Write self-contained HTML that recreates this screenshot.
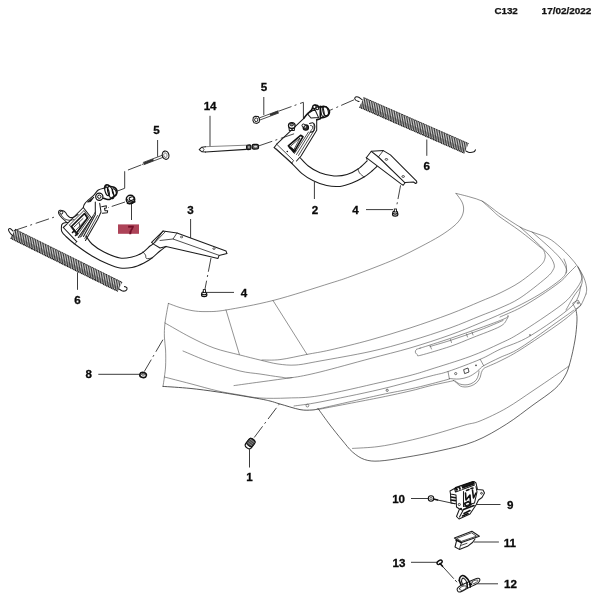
<!DOCTYPE html>
<html><head><meta charset="utf-8"><title>C132</title>
<style>
html,body{margin:0;padding:0;background:#fff;}
body{width:600px;height:600px;overflow:hidden;font-family:"Liberation Sans",sans-serif;}
svg{display:block;position:absolute;left:0;top:0;will-change:transform;}
path{fill:none;stroke-linecap:round;stroke-linejoin:round;}
.l{stroke:#505050;stroke-width:0.62;}
.k{stroke:#1c1c1c;stroke-width:1.05;}
.kf{stroke:#1c1c1c;stroke-width:1.05;fill:#fff;}
.kt{stroke:#222;stroke-width:0.8;}
.kd{stroke:#111;stroke-width:1.6;}
.ld{stroke:#3c3c3c;stroke-width:1;stroke-linecap:butt;}
.da{stroke:#222;stroke-width:0.85;stroke-dasharray:14 3.3 2 3.8;stroke-linecap:butt;}
.t{font-family:"Liberation Sans",sans-serif;font-weight:bold;font-size:11.6px;fill:#0a0a0a;stroke:#0a0a0a;stroke-width:0.3;text-anchor:middle;}
.h{font-family:"Liberation Sans",sans-serif;font-weight:bold;font-size:9px;fill:#111;stroke:#111;stroke-width:0.25;}
</style></head><body>
<svg width="600" height="600" viewBox="0 0 600 600">
<text class="h" x="494.4" y="13.9" textLength="23.4" lengthAdjust="spacingAndGlyphs">C132</text>
<text class="h" x="541.6" y="13.9" textLength="49.8" lengthAdjust="spacingAndGlyphs">17/02/2022</text>
<path class="l" d="M168.4,303.4 C170.3,304.1 176.1,306.4 180.0,307.6 C183.9,308.8 187.7,309.9 192.0,310.6 C196.3,311.3 200.3,311.7 206.0,311.6 C211.7,311.5 214.8,311.9 226.0,310.0 C237.2,308.1 255.7,304.9 273.0,300.5 C290.3,296.1 317.2,287.3 330.0,283.3 C342.8,279.3 341.7,279.7 350.0,276.7 C358.3,273.7 371.7,268.7 380.0,265.4 C388.3,262.1 393.3,260.1 400.0,257.0 C406.7,253.9 413.3,250.5 420.0,247.0 C426.7,243.5 434.3,239.5 440.0,236.0 C445.7,232.5 450.5,229.0 454.0,226.0 C457.5,223.0 459.4,220.7 461.0,218.0 C462.6,215.3 463.4,212.7 463.6,210.0 C463.8,207.3 463.3,204.8 462.0,202.0 C460.7,199.2 457.0,194.8 456.0,193.4" />
<path class="l" d="M168.4,303.4 C167.8,306.7 165.7,317.4 165.0,323.0 C164.3,328.6 164.3,332.5 164.4,337.0 C164.5,341.5 165.4,345.2 165.6,350.0 C165.8,354.8 165.8,361.5 165.6,366.0 C165.4,370.5 164.8,373.6 164.4,377.0 C164.0,380.4 163.2,384.8 163.0,386.4" />
<path class="l" d="M163.0,386.4 C167.5,386.7 180.8,387.5 190.0,388.4 C199.2,389.3 206.9,390.4 218.0,392.0 C229.1,393.6 248.0,396.8 256.7,398.3 C265.4,399.8 266.1,400.1 270.0,401.0 C273.9,401.9 275.0,402.6 280.0,404.0 C285.0,405.4 294.7,408.6 300.0,409.6 C305.3,410.6 309.0,410.1 312.0,410.0 C315.0,409.9 317.0,409.2 318.0,409.0" style="stroke:#2a2a2a;stroke-width:0.8"/>
<path class="l" d="M456.0,193.4 C458.3,194.0 465.7,195.7 470.0,197.0 C474.3,198.3 478.3,199.2 482.0,201.0 C485.7,202.8 489.0,205.8 492.0,208.0 C495.0,210.2 495.3,210.8 500.0,214.0 C504.7,217.2 514.7,224.0 520.0,227.0 C525.3,230.0 527.3,230.2 532.0,232.0 C536.7,233.8 543.3,235.5 548.0,238.0 C552.7,240.5 556.3,243.8 560.0,247.0 C563.7,250.2 567.0,253.7 570.0,257.0 C573.0,260.3 575.7,263.5 578.0,267.0 C580.3,270.5 582.6,274.5 584.0,278.0 C585.4,281.5 586.3,285.3 586.6,288.0 C586.9,290.7 586.1,293.0 586.0,294.0" />
<path class="l" d="M482.0,201.0 C483.7,202.5 489.0,207.3 492.0,210.0 C495.0,212.7 495.3,213.5 500.0,217.0 C504.7,220.5 513.3,226.0 520.0,231.0 C526.7,236.0 536.0,243.7 540.0,247.0 C544.0,250.3 543.2,249.2 544.0,251.0 C544.8,252.8 545.7,255.5 545.0,258.0 C544.3,260.5 544.2,262.0 540.0,266.0 C535.8,270.0 526.7,277.5 520.0,282.0 C513.3,286.5 506.7,289.7 500.0,293.0 C493.3,296.3 488.3,298.1 480.0,301.6 C471.7,305.1 461.7,309.6 450.0,314.0 C438.3,318.4 423.3,323.7 410.0,328.0 C396.7,332.3 383.3,336.3 370.0,340.0 C356.7,343.7 340.5,347.6 330.0,350.0 C319.5,352.4 315.3,352.8 307.0,354.4 C298.7,356.0 287.5,358.7 280.0,359.6 C272.5,360.5 265.0,359.9 262.0,360.0" />
<path class="l" d="M165.0,323.0 C169.2,325.3 181.8,332.8 190.0,337.0 C198.2,341.2 205.7,345.0 214.0,348.0 C222.3,351.0 232.3,353.0 240.0,355.0 C247.7,357.0 253.7,358.5 260.0,360.0 C266.3,361.5 272.0,363.2 278.0,364.0 C284.0,364.8 289.0,365.5 296.0,365.0 C303.0,364.5 307.7,363.2 320.0,361.0 C332.3,358.8 355.0,354.9 370.0,351.6 C385.0,348.3 396.7,344.9 410.0,341.0 C423.3,337.1 438.3,332.2 450.0,328.0 C461.7,323.8 471.7,319.3 480.0,316.0 C488.3,312.7 493.3,311.0 500.0,308.0 C506.7,305.0 512.3,303.0 520.0,298.0 C527.7,293.0 540.5,282.7 546.0,278.0 C551.5,273.3 551.7,272.3 553.0,270.0 C554.3,267.7 554.8,266.7 554.0,264.0 C553.2,261.3 551.7,258.3 548.0,254.0 C544.3,249.7 536.7,242.5 532.0,238.0 C527.3,233.5 522.0,228.8 520.0,227.0" />
<path class="l" d="M183.0,351.0 C187.5,352.8 200.5,358.7 210.0,362.0 C219.5,365.3 231.7,369.0 240.0,371.0 C248.3,373.0 253.3,373.0 260.0,374.0 C266.7,375.0 274.7,376.4 280.0,377.0 C285.3,377.6 285.3,378.4 292.0,377.6 C298.7,376.8 307.0,375.2 320.0,372.0 C333.0,368.8 355.0,362.6 370.0,358.6 C385.0,354.6 396.7,351.9 410.0,348.0 C423.3,344.1 438.3,339.2 450.0,335.0 C461.7,330.8 469.3,327.5 480.0,323.0 C490.7,318.5 504.0,312.8 514.0,308.0 C524.0,303.2 532.3,298.7 540.0,294.0 C547.7,289.3 555.7,283.5 560.0,280.0 C564.3,276.5 565.0,275.0 566.0,273.0 C567.0,271.0 567.0,270.5 566.0,268.0 C565.0,265.5 563.0,261.7 560.0,258.0 C557.0,254.3 552.7,250.3 548.0,246.0 C543.3,241.7 534.7,234.3 532.0,232.0" />
<path class="l" d="M564.0,259.0 C564.4,260.2 566.1,263.7 566.4,266.0 C566.7,268.3 566.1,271.8 566.0,273.0" />
<path class="l" d="M234.0,385.6 C238.3,385.0 250.3,383.3 260.0,382.0 C269.7,380.7 286.7,378.3 292.0,377.6" />
<path class="l" d="M226.0,310.0 L239.4,354.4" />
<path class="l" d="M273.0,300.5 L307.0,354.4" />
<path class="l" d="M576.0,266.0 C574.7,267.3 570.7,271.3 568.0,274.0 C565.3,276.7 564.7,278.3 560.0,282.0 C555.3,285.7 546.7,291.7 540.0,296.0 C533.3,300.3 526.7,304.5 520.0,308.0 C513.3,311.5 503.3,315.5 500.0,317.0" />
<path class="l" d="M164.4,377.0 C168.7,378.1 181.1,381.3 190.0,383.6 C198.9,385.9 209.7,389.1 218.0,391.0 C226.3,392.9 233.0,393.8 240.0,395.0 C247.0,396.2 252.0,397.5 260.0,398.0 C268.0,398.5 278.0,398.4 288.0,398.0 C298.0,397.6 304.7,398.2 320.0,395.6 C335.3,393.0 365.0,385.9 380.0,382.5 C395.0,379.1 401.7,377.7 410.0,375.5 C418.3,373.3 420.0,372.7 430.0,369.5 C440.0,366.3 458.3,360.8 470.0,356.5 C481.7,352.2 491.7,347.4 500.0,343.5 C508.3,339.6 510.0,339.2 520.0,333.0 C530.0,326.8 551.0,312.8 560.0,306.0 C569.0,299.2 570.3,296.7 574.0,292.0 C577.7,287.3 581.3,282.2 582.0,278.0 C582.7,273.8 578.7,268.8 578.0,267.0" />
<path class="l" d="M294.0,406.0 C298.3,405.3 305.7,404.8 320.0,402.0 C334.3,399.2 361.7,393.7 380.0,389.4 C398.3,385.1 418.7,379.2 430.0,376.2 C441.3,373.2 439.6,374.3 448.0,371.5 C456.4,368.7 471.5,363.0 480.2,359.3 C488.9,355.6 491.7,353.2 500.0,349.3 C508.3,345.4 518.0,343.2 530.0,336.0 C542.0,328.8 563.5,314.3 572.0,306.0 C580.5,297.7 579.5,289.3 581.0,286.0" />
<path class="l" d="M318.0,409.0 C328.3,406.7 364.7,398.3 380.0,395.0 C395.3,391.7 401.7,390.8 410.0,389.0 C418.3,387.2 423.4,385.9 430.0,384.2 C436.6,382.5 446.2,379.9 449.5,379.0" />
<path class="l" d="M318.0,409.5 C328.3,407.5 364.7,400.6 380.0,397.5 C395.3,394.4 401.7,392.9 410.0,391.0 C418.3,389.1 423.0,387.5 430.0,385.8 C437.0,384.1 448.1,381.9 452.0,381.0 C455.9,380.1 453.1,380.7 453.3,380.6" />
<path class="l" d="M448.0,371.5 L449.3,378.5" />
<path class="l" d="M480.2,359.3 L483.7,365.7" />
<path class="l" d="M449.3,378.5 C450.9,378.6 456.0,379.3 459.2,379.0 C462.4,378.7 465.8,377.9 468.5,376.8 C471.2,375.8 473.8,373.9 475.5,372.7 C477.2,371.5 477.6,371.0 479.0,369.8 C480.4,368.6 480.2,367.8 483.7,365.7 C487.2,363.6 493.9,360.4 500.0,357.5 C506.1,354.6 510.0,354.2 520.0,348.0 C530.0,341.8 551.0,326.3 560.0,320.0 C569.0,313.7 571.7,311.7 574.0,310.0" />
<path class="l" d="M453.3,380.3 C453.8,380.7 455.1,381.7 456.3,382.6 C457.5,383.6 458.9,385.3 460.3,386.0 C461.8,386.7 463.2,387.0 465.0,387.0 C466.8,387.0 468.9,386.7 470.8,386.0 C472.8,385.3 475.1,384.1 476.7,382.6 C478.3,381.2 479.4,379.0 480.2,377.3 C481.0,375.6 480.7,374.1 481.3,372.7 C481.9,371.2 482.5,369.7 483.7,368.6 C484.9,367.5 485.6,367.6 488.3,366.3 C491.0,365.0 494.7,363.7 500.0,361.0 C505.3,358.3 510.0,356.3 520.0,350.0 C530.0,343.7 550.7,329.7 560.0,323.0 C569.3,316.3 573.3,312.2 576.0,310.0" />
<path class="l" d="M455.0,380.8 C455.7,381.3 457.5,383.1 459.2,383.8 C460.9,384.5 463.1,384.9 465.0,384.9 C466.9,384.9 469.0,384.6 470.8,383.8 C472.6,383.0 474.7,381.8 476.0,380.3 C477.3,378.8 477.9,376.6 478.4,375.0 C478.9,373.4 478.9,371.7 479.0,371.0" />
<circle cx="455.7" cy="373.6" r="1.1" fill="none" stroke="#333" stroke-width="0.7"/>
<circle cx="307.4" cy="405.6" r="1.4" fill="none" stroke="#444" stroke-width="0.6"/>
<path class="kt" d="M464.0,369.5 L468.0,368.0 L469.0,372.0 L465.0,373.5Z" />
<circle cx="476" cy="365.4" r="0.8" fill="#333"/>
<circle cx="530" cy="335" r="0.8" fill="#444"/>
<circle cx="387.2" cy="390.3" r="1.1" fill="none" stroke="#333" stroke-width="0.7"/>
<path class="l" d="M420.0,348.2 C425.6,346.4 440.0,341.9 450.0,338.5 C460.0,335.1 470.8,331.3 480.0,328.0 C489.2,324.7 500.3,320.6 505.0,318.5 C509.7,316.4 507.7,315.4 508.0,315.5 C508.3,315.6 508.3,317.2 507.0,319.0 C505.7,320.8 505.7,323.4 500.0,326.5 C494.3,329.6 481.3,334.2 473.0,337.5 C464.7,340.8 458.7,343.6 450.0,346.5 C441.3,349.4 426.4,353.8 421.0,355.2 C415.6,356.6 418.2,355.1 417.3,354.6 C416.4,354.1 415.4,352.9 415.3,352.0 C415.2,351.1 415.7,350.1 416.5,349.5 C417.3,348.9 414.4,350.0 420.0,348.2Z" />
<path class="l" d="M430.0,346.5 C433.3,345.5 441.7,343.2 450.0,340.5 C458.3,337.8 471.2,333.3 480.0,330.0 C488.8,326.7 499.2,322.1 503.0,320.5" />
<path class="l" d="M430.0,345.5 L431.5,349.0" />
<path class="l" d="M450.5,339.5 L451.5,342.5" />
<path class="l" d="M466.5,334.0 L467.5,337.0" />
<path class="l" d="M472.0,332.0 L473.0,335.0" />
<path class="l" d="M578.0,267.0 C578.7,268.8 581.5,274.8 582.0,278.0 C582.5,281.2 582.3,283.0 581.0,286.0 C579.7,289.0 576.5,292.0 574.0,296.0 C571.5,300.0 567.3,307.7 566.0,310.0" />
<path class="l" d="M586.0,294.0 C585.2,295.8 582.7,302.4 581.0,305.0 C579.3,307.6 576.8,308.8 576.0,309.5" />
<path class="l" d="M573.0,303.0 L578.0,300.0 L581.0,305.0 L576.0,309.0Z" />
<circle cx="578" cy="303" r="0.9" fill="none" stroke="#444" stroke-width="0.6"/>
<path class="l" d="M576.0,310.0 C576.2,311.7 577.2,315.0 577.0,320.0 C576.8,325.0 576.2,332.9 575.0,340.0 C573.8,347.1 571.7,356.7 570.0,362.7 C568.3,368.7 567.5,371.6 565.0,376.0 C562.5,380.4 560.0,384.2 554.7,389.0 C549.4,393.8 541.0,399.2 533.0,405.0 C525.0,410.8 516.4,417.9 506.7,424.0 C497.0,430.1 485.8,436.9 474.7,441.3 C463.6,445.8 451.6,448.0 440.0,450.7 C428.4,453.4 415.1,455.7 405.0,457.4 C394.9,459.1 386.2,460.6 379.5,461.0 C372.8,461.4 369.0,461.0 364.5,459.5 C360.0,458.0 356.2,455.2 352.5,452.0 C348.8,448.8 345.8,444.5 342.0,440.0 C338.2,435.5 334.0,430.2 330.0,425.0 C326.0,419.8 320.0,411.2 318.0,408.5" style="stroke:#333;stroke-width:0.75"/>
<path class="l" d="M569.0,366.0 C566.6,367.7 560.7,371.9 554.7,376.0 C548.7,380.1 541.0,385.4 533.0,390.7 C525.0,396.0 515.5,402.9 506.7,408.0 C497.9,413.1 486.9,418.2 480.0,421.0 C473.1,423.8 472.5,422.8 465.0,425.0 C457.5,427.2 445.0,431.2 435.0,434.0 C425.0,436.8 414.5,439.4 405.0,441.5 C395.5,443.6 386.8,445.5 378.0,446.6 C369.2,447.8 356.8,448.1 352.5,448.4" />
<defs><pattern id="sp" width="1.75" height="12" patternUnits="userSpaceOnUse" patternTransform="rotate(8)"><rect width="1.75" height="12" fill="#cfcfcf"/><rect width="0.85" height="12" fill="#333"/></pattern></defs>
<path d="M10.6,238.2 L117.8,291.3 L122.2,282.3 L15.0,229.2Z" style="fill:url(#sp);stroke:none"/>
<line x1="10.6" y1="238.2" x2="117.8" y2="291.3" stroke="#1a1a1a" stroke-width="1.3" stroke-dasharray="1.2 0.55"/>
<line x1="15.0" y1="229.2" x2="122.2" y2="282.3" stroke="#2a2a2a" stroke-width="1.0" stroke-dasharray="1.2 0.55"/>
<line x1="11.8" y1="235.7" x2="119.0" y2="288.8" stroke="#444" stroke-width="3.0" opacity="0.35"/>
<path d="M359.4,107.1 L464.4,153.1 L468.6,143.5 L363.6,97.5Z" style="fill:url(#sp);stroke:none"/>
<line x1="359.4" y1="107.1" x2="464.4" y2="153.1" stroke="#1a1a1a" stroke-width="1.3" stroke-dasharray="1.2 0.55"/>
<line x1="363.6" y1="97.5" x2="468.6" y2="143.5" stroke="#2a2a2a" stroke-width="1.0" stroke-dasharray="1.2 0.55"/>
<line x1="360.6" y1="104.4" x2="465.6" y2="150.4" stroke="#444" stroke-width="3.1" opacity="0.35"/>
<path class="k" d="M13.0,231.0 C12.5,230.6 10.8,228.7 10.0,228.5 C9.2,228.3 8.4,229.2 8.5,230.0 C8.6,230.8 9.8,232.5 10.5,233.5 C11.2,234.5 12.6,235.6 13.0,236.0" />
<path class="k" d="M119.0,289.0 C119.6,289.3 121.3,290.8 122.5,291.0 C123.7,291.2 125.2,291.0 126.0,290.5 C126.8,290.0 127.2,288.7 127.0,288.0 C126.8,287.3 124.9,286.8 124.5,286.5" />
<path class="k" d="M362.0,99.5 C361.3,99.1 359.2,97.3 358.0,97.0 C356.8,96.7 355.4,97.0 355.0,97.5 C354.6,98.0 354.8,99.3 355.5,100.0 C356.2,100.7 358.4,101.2 359.0,101.5" />
<path class="k" d="M466.0,151.0 C466.6,151.2 468.2,152.4 469.5,152.5 C470.8,152.6 473.0,152.2 474.0,151.8 C475.0,151.4 475.2,150.1 475.5,149.8" />
<path class="da" d="M13.8,230.7 L57.5,216.0" />
<path class="da" d="M141.0,165.0 L124.7,171.3" />
<path class="ld" d="M124.7,171.3 L124.7,188.3 L117.5,191.0" />
<path class="da" d="M125.0,202.0 L108.0,207.7" />
<path class="da" d="M354.0,99.8 L329.5,110.5" />
<path class="da" d="M278.3,111.3 L303.3,102.3" />
<path class="ld" d="M303.4,102.3 L303.4,117.9" />
<path class="da" d="M259.0,145.8 L297.0,132.8" />
<path class="da" d="M400.6,185.3 L396.4,207.3" />
<path class="da" d="M211.0,258.0 L205.0,289.0" />
<path class="da" d="M144.2,371.7 L164.2,337.5" />
<path class="da" d="M254.2,437.5 L279.2,404.2" />
<path class="ld" d="M157.6,140.0 L157.6,156.7" />
<path class="ld" d="M263.8,97.0 L263.8,115.0" />
<path class="ld" d="M210.0,115.8 L210.0,146.7" />
<path class="ld" d="M426.8,139.5 L426.8,155.8" />
<path class="ld" d="M77.5,272.3 L77.5,289.8" />
<path class="ld" d="M131.5,204.0 L131.5,220.0" />
<path class="ld" d="M190.6,219.0 L190.6,238.0" />
<path class="ld" d="M314.4,182.0 L314.4,199.0" />
<path class="ld" d="M366.0,209.6 L393.0,209.6" />
<path class="ld" d="M207.0,292.4 L234.0,292.4" />
<path class="ld" d="M98.3,374.3 L140.0,374.3" />
<path class="ld" d="M249.5,449.2 L249.5,467.5" />
<path class="ld" d="M411.0,498.5 L428.0,498.5" />
<path class="ld" d="M476.0,504.5 L500.5,504.5" />
<path class="ld" d="M473.7,542.0 L498.9,542.0" />
<path class="ld" d="M411.0,562.3 L437.5,562.3" />
<path class="ld" d="M477.0,583.8 L498.0,583.8" />
<path class="ld" d="M437.5,500.0 L455.0,503.8" />
<path class="ld" d="M441.0,564.7 L453.8,578.7" />
<path class="ld" d="M455.0,580.0 L457.0,582.2" />
<g class="tg">
<rect x="118" y="224.4" width="21" height="9.4" fill="#ad4358"/>
<text class="t" x="131.1" y="233.9" style="fill:#741029;stroke:#741029">7</text>
<text class="t" x="156.5" y="133.6">5</text>
<text class="t" x="263.9" y="91.0">5</text>
<text class="t" x="210.1" y="109.9">14</text>
<text class="t" x="426.8" y="170.0">6</text>
<text class="t" x="77.5" y="304.4">6</text>
<text class="t" x="190.6" y="213.6">3</text>
<text class="t" x="314.9" y="213.6">2</text>
<text class="t" x="355.6" y="213.5">4</text>
<text class="t" x="244" y="297.0">4</text>
<text class="t" x="88.7" y="378.2">8</text>
<text class="t" x="249.5" y="481.2">1</text>
<text class="t" x="398.6" y="502.9">10</text>
<text class="t" x="510.3" y="508.5">9</text>
<text class="t" x="509.8" y="547.0">11</text>
<text class="t" x="399" y="566.8">13</text>
<text class="t" x="510.5" y="587.9">12</text>
</g>
<path class="k" d="M61.5,226.0 C61.5,226.9 61.0,229.8 61.8,231.5 C62.5,233.2 63.6,234.2 66.0,236.5 C68.4,238.8 71.7,241.8 76.0,245.0 C80.3,248.2 86.7,252.8 92.0,256.0 C97.3,259.2 103.3,262.0 108.0,264.0 C112.7,266.0 116.0,267.4 120.0,268.0 C124.0,268.6 128.0,268.3 132.0,267.5 C136.0,266.7 140.7,264.6 144.0,263.0 C147.3,261.4 149.3,260.0 152.0,258.0 C154.7,256.0 157.7,252.9 160.0,251.0 C162.3,249.1 165.0,247.2 166.0,246.4" />
<path class="k" d="M86.0,236.0 C87.0,237.3 89.0,241.3 92.0,244.0 C95.0,246.7 99.3,249.7 104.0,252.0 C108.7,254.3 115.3,257.2 120.0,258.0 C124.7,258.8 128.3,257.8 132.0,257.0 C135.7,256.2 139.0,254.8 142.0,253.0 C145.0,251.2 148.0,247.7 150.0,246.0 C152.0,244.3 151.8,245.5 154.0,243.0 C156.2,240.5 161.5,233.0 163.0,231.0" />
<path class="kt" d="M143.0,252.0 C143.4,252.5 144.9,253.9 145.5,255.0 C146.1,256.1 145.4,258.0 146.5,258.5 C147.6,259.0 151.1,258.1 152.0,258.0" />
<path class="k" d="M151.6,242.4 L163.0,231.0 L177.0,233.0 L226.0,251.0 L227.0,253.6 L219.0,255.6 L218.0,258.4 L166.0,246.4 L160.0,248.0 L154.0,244.4 L151.6,242.4" />
<path class="kt" d="M177.0,233.0 L173.0,239.0 L219.0,255.3" />
<path class="kt" d="M165.5,231.5 L154.5,243.0" />
<path class="kt" d="M173.0,239.0 L160.0,240.5" />
<ellipse cx="181.6" cy="237" rx="1.2" ry="0.8" fill="none" stroke="#222" stroke-width="0.7"/>
<ellipse cx="214" cy="248.6" rx="1.2" ry="0.8" fill="none" stroke="#222" stroke-width="0.7"/>
<path class="k" d="M61.5,226.0 C61.6,225.7 61.6,224.8 62.0,224.3 C62.4,223.8 63.1,223.3 64.0,223.0 C64.9,222.7 66.9,222.6 67.5,222.5" />
<path class="k" d="M63.3,227.5 L67.1,223.8" />
<path class="k" d="M63.3,227.5 L76.7,241.7" />
<path class="kt" d="M76.7,241.7 L74.5,244.0" />
<path class="k" d="M67.5,223.3 L83.3,207.5 L91.7,218.3 L78.3,237.5" />
<path class="kt" d="M69.5,225.0 L84.0,210.5 L89.5,218.0 L77.0,235.5 L69.5,225.0" />
<path class="kd" d="M71.5,226.5 L84.5,213.5 L87.5,218.0 L76.5,233.0 L71.5,226.5" />
<path class="kt" d="M74.0,227.0 L83.0,218.5" />
<path class="kt" d="M76.0,230.0 L85.5,220.0" />
<path class="kt" d="M79.0,222.5 L80.5,228.5" />
<path class="kd" d="M72.5,232.5 L74.5,230.5" />
<path class="kd" d="M75.5,235.5 L77.5,233.5" />
<path class="k" d="M95.3,202.0 L95.3,214.7 L83.5,236.5" />
<path class="k" d="M99.7,203.3 L101.0,212.0 L97.7,219.3 L85.5,240.5" />
<path class="kt" d="M97.5,215.5 L84.8,238.5" />
<path class="kt" d="M93.0,216.0 L81.5,236.5" />
<path class="kt" d="M91.0,219.0 L80.0,237.5" />
<path class="k" d="M83.3,207.5 C83.6,206.8 83.3,205.3 85.0,203.3 C86.7,201.3 91.5,197.5 93.7,195.3 C95.9,193.1 96.4,191.2 98.3,190.0 C100.2,188.8 103.9,188.3 105.0,188.0" />
<path class="k" d="M87.7,202.0 L91.0,199.3 L93.7,197.3 L90.5,201.5 L87.7,202.0" />
<path class="kt" d="M91.7,218.3 L95.3,212.0" />
<circle cx="99.3" cy="196.7" r="3.6" fill="#fff" stroke="#111" stroke-width="1.2"/>
<circle cx="99.3" cy="196.7" r="1.7" fill="none" stroke="#111" stroke-width="1"/>
<path class="kd" d="M104.5,188.0 C104.7,187.6 104.9,185.8 105.5,185.3 C106.1,184.8 107.2,184.8 108.0,185.0 C108.8,185.2 109.0,185.9 110.0,186.3 C111.0,186.7 112.9,186.7 114.0,187.2 C115.1,187.7 116.0,188.6 116.5,189.5 C117.0,190.4 117.2,191.5 117.0,192.5 C116.8,193.5 116.2,194.7 115.5,195.5 C114.8,196.3 113.4,196.9 112.5,197.5 C111.6,198.1 111.0,199.0 110.0,199.3 C109.0,199.6 107.6,199.4 106.5,199.2 C105.4,199.0 104.0,198.5 103.5,198.3" />
<ellipse cx="110.7" cy="192.6" rx="2.5" ry="6.3" fill="none" stroke="#111" stroke-width="1.2" transform="rotate(-18 110.7 192.6)"/>
<ellipse cx="107" cy="191.3" rx="1.8" ry="4.6" fill="none" stroke="#111" stroke-width="1.2" transform="rotate(-18 107 191.3)"/>
<ellipse cx="114.3" cy="192.2" rx="1.8" ry="3.6" fill="none" stroke="#111" stroke-width="1" transform="rotate(-18 114.3 192.2)"/>
<path class="k" d="M101.7,206.7 L106.3,205.7 L106.3,208.0 L104.5,208.3 L105.0,210.7 L107.7,210.7 L107.3,212.7 L102.3,213.3" />
<path class="k" d="M66.0,221.5 C65.4,221.0 63.6,219.6 62.5,218.5 C61.4,217.4 60.2,216.1 59.5,215.0 C58.8,213.9 58.4,212.8 58.5,212.0 C58.6,211.2 59.2,210.5 60.0,210.3 C60.8,210.1 62.1,210.4 63.0,210.8 C63.9,211.2 64.8,211.7 65.5,212.5 C66.2,213.3 66.8,214.7 67.5,215.5 C68.2,216.3 68.9,217.2 70.0,217.5 C71.1,217.8 72.7,217.5 74.0,217.0 C75.3,216.5 77.3,214.9 78.0,214.5" />
<path class="kt" d="M61.0,214.5 C61.3,215.0 62.2,216.7 63.0,217.5 C63.8,218.3 64.8,219.0 66.0,219.5 C67.2,220.0 68.7,220.3 70.0,220.3 C71.3,220.3 73.3,219.6 74.0,219.5" />
<circle cx="61.3" cy="212.6" r="1.5" fill="none" stroke="#111" stroke-width="1"/>
<path class="k" d="M274.2,147.5 C277.1,150.1 287.1,159.0 291.7,163.3 C296.3,167.6 298.1,170.4 301.7,173.3 C305.3,176.2 309.1,178.8 313.3,180.8 C317.5,182.9 322.2,184.7 326.7,185.6 C331.1,186.5 335.8,186.8 340.0,186.4 C344.2,186.0 348.0,184.6 352.0,183.0 C356.0,181.4 360.7,179.0 364.0,177.0 C367.3,175.0 369.8,172.8 372.0,171.0 C374.2,169.2 376.2,167.2 377.0,166.5" />
<path class="k" d="M300.0,157.5 C301.4,158.9 305.0,163.4 308.3,166.0 C311.6,168.6 315.7,171.1 320.0,172.8 C324.3,174.5 329.5,175.7 334.0,176.0 C338.5,176.3 343.0,175.8 347.0,174.6 C351.0,173.4 354.7,171.3 358.0,169.0 C361.3,166.7 365.5,162.3 367.0,161.0" />
<path class="kt" d="M358.0,169.0 C358.2,169.7 358.5,171.7 359.5,173.0 C360.5,174.3 363.2,176.3 364.0,177.0" />
<path class="k" d="M366.3,157.7 L371.3,151.3 L383.3,150.6 L390.4,154.9 L416.6,181.1 L416.8,182.8 L415.6,183.5 L413.4,182.0 L405.3,182.5 L403.2,185.3 L401.0,183.9 L366.3,157.7" />
<path class="k" d="M371.3,151.3 L378.4,157.0 L404.8,182.6" />
<path class="kt" d="M378.4,157.0 L383.3,150.6" />
<path class="kt" d="M366.3,157.7 L367.2,160.3" />
<ellipse cx="386.4" cy="159.4" rx="1.3" ry="0.9" fill="none" stroke="#222" stroke-width="0.8"/>
<ellipse cx="403.2" cy="176.5" rx="1.3" ry="0.9" fill="none" stroke="#222" stroke-width="0.8"/>
<path class="k" d="M274.2,147.5 L276.7,144.2 L303.8,118.3" />
<path class="kt" d="M276.5,149.0 L292.5,163.5" />
<path class="kt" d="M276.7,144.2 L293.5,160.5 L291.7,163.3" />
<path class="k" d="M316.7,119.7 L316.7,130.3 L301.0,156.0 L296.5,161.0" />
<path class="kt" d="M314.0,124.0 L314.0,130.5 L298.5,155.5" />
<path class="kt" d="M311.0,131.0 L296.5,154.5" />
<path class="kt" d="M308.5,132.0 L294.5,153.5" />
<path class="kd" d="M288.3,145.8 L300.6,135.3 L303.0,136.7 L293.8,152.3Z" />
<path class="kt" d="M290.8,146.0 L300.0,138.0 L294.0,149.5Z" />
<path class="kd" d="M289.5,147.5 L295.0,151.0" />
<circle cx="287.3" cy="151.5" r="0.8" fill="#111"/>
<path class="kd" d="M303.8,118.3 C304.4,117.5 306.2,115.2 307.5,113.8 C308.8,112.4 310.6,111.2 311.5,110.0 C312.4,108.8 312.4,107.3 313.0,106.5 C313.6,105.7 314.2,105.2 315.0,105.0 C315.8,104.8 316.8,105.2 317.5,105.5 C318.2,105.8 317.9,106.9 319.0,107.0 C320.1,107.1 322.5,106.0 324.0,106.3 C325.5,106.5 327.1,107.5 328.0,108.5 C328.9,109.5 329.5,110.8 329.5,112.0 C329.5,113.2 328.8,114.6 328.0,115.5 C327.2,116.4 325.7,116.9 324.5,117.3 C323.3,117.7 321.7,117.5 321.0,117.8 C320.3,118.0 321.0,118.5 320.3,118.8 C319.6,119.1 317.3,119.5 316.7,119.7" />
<path class="k" d="M307.5,113.8 L314.8,109.2 L318.5,117.4 L311.0,118.0Z" />
<path class="kd" d="M320.3,106.4 L320.3,118.3" />
<ellipse cx="325.6" cy="111.2" rx="2.6" ry="4.6" fill="none" stroke="#111" stroke-width="1.1" transform="rotate(-15 325.6 111.2)"/>
<ellipse cx="322.5" cy="111.8" rx="1.5" ry="4.8" fill="none" stroke="#111" stroke-width="1" transform="rotate(-10 322.5 111.8)"/>
<circle cx="314.5" cy="106.9" r="1.7" fill="#fff" stroke="#111" stroke-width="1.2"/>
<circle cx="317.3" cy="108.3" r="1.4" fill="#fff" stroke="#111" stroke-width="1.1"/>
<circle cx="305.8" cy="127.6" r="2.7" fill="#333" stroke="#111" stroke-width="1.1"/>
<circle cx="305.2" cy="126.8" r="1" fill="#ddd"/>
<circle cx="303.5" cy="125.5" r="1.5" fill="#fff" stroke="#111" stroke-width="1"/>
<path class="k" d="M309.5,123.5 C310.0,123.4 311.7,122.5 312.5,122.7 C313.3,122.9 314.1,123.8 314.5,124.8 C314.9,125.8 314.9,127.4 314.6,128.5 C314.4,129.6 313.7,130.9 313.0,131.5 C312.3,132.1 310.8,132.2 310.3,132.3" />
<path class="kt" d="M310.5,125.5 C310.8,125.6 312.0,125.5 312.3,126.0 C312.6,126.5 312.7,127.8 312.5,128.5 C312.3,129.2 311.2,130.0 311.0,130.3" />
<ellipse cx="291.8" cy="125.6" rx="3.3" ry="2.9" fill="#fff" stroke="#111" stroke-width="1.3"/>
<ellipse cx="291.8" cy="124.6" rx="1.8" ry="1.3" fill="#888" stroke="#111" stroke-width="0.9"/>
<path class="k" d="M289.0,127.5 L289.3,130.5 L294.3,130.5 L294.6,127.5" />
<ellipse cx="165.6" cy="155.2" rx="3.3" ry="4.2" fill="#fff" stroke="#111" stroke-width="1.1" transform="rotate(-15 165.6 155.2)"/>
<ellipse cx="165.4" cy="155.2" rx="1.6" ry="2.4" fill="none" stroke="#444" stroke-width="0.6" transform="rotate(-15 165.4 155.2)"/>
<path class="kt" d="M162.5,155.2 L143.3,162.4" />
<path class="kt" d="M163.1,157.3 L144.0,164.6" />
<path class="kd" d="M153.5,159.8 L144.0,163.5" style="stroke-width:2.2;stroke:#333;stroke-linecap:butt"/>
<path class="kt" d="M144.0,163.5 L142.0,164.6" />
<path class="kf" d="M253.3,117.5 L255.2,116.2 L258.3,116.6 L259.6,119.2 L259.2,122.0 L257.0,123.4 L254.0,122.8 L252.9,120.5Z" />
<ellipse cx="256.2" cy="119.8" rx="1.6" ry="1.9" fill="none" stroke="#111" stroke-width="0.9"/>
<path class="kt" d="M259.6,117.8 L278.0,110.9" />
<path class="kt" d="M260.2,119.9 L278.6,113.0" />
<path class="kd" d="M270.0,115.0 L278.2,111.9" style="stroke-width:2.2;stroke:#333;stroke-linecap:butt"/>
<path class="kf" d="M199.2,149.7 L201.8,147.2 L205.5,146.7 L246.3,145.3 L246.3,149.3 L205.5,152.0 L202.0,151.8Z" style="stroke:none"/>
<path class="kt" d="M205.5,146.7 L246.3,145.2" style="stroke:#777;stroke-width:0.9"/>
<path class="k" d="M205.5,152.0 L246.3,149.4" style="stroke-width:1.25"/>
<path class="k" d="M205.5,146.7 L201.8,147.2 L199.2,149.7 L202.0,151.8 L205.5,152.0" />
<path class="kt" d="M202.5,147.5 L204.0,149.5 L202.7,151.5" />
<rect x="246.6" y="145" width="4.3" height="4.6" rx="1.3" fill="#555" stroke="#111" stroke-width="1.2" transform="rotate(-3 248 147)"/>
<rect x="252.3" y="144.4" width="6.2" height="4.7" rx="1.5" fill="#666" stroke="#111" stroke-width="1.2" transform="rotate(-3 255 147)"/>
<ellipse cx="255.6" cy="146.6" rx="1.6" ry="0.9" fill="#ddd"/>
<ellipse cx="248.9" cy="147.1" rx="0.9" ry="0.8" fill="#ccc"/>
<circle cx="130.5" cy="199.4" r="4.2" fill="#fff" stroke="#111" stroke-width="1.5"/>
<ellipse cx="131.6" cy="198.6" rx="2.5" ry="1.7" fill="none" stroke="#111" stroke-width="1" transform="rotate(-15 131.6 198.6)"/>
<path class="k" d="M127.3,199.5 C127.5,199.8 127.9,200.9 128.5,201.3 C129.1,201.7 130.2,201.9 131.0,201.8 C131.8,201.8 133.1,201.1 133.5,201.0" />
<path class="kd" d="M127.5,203.3 L129.5,203.8 L134.8,201.8" />
<ellipse cx="395.2" cy="214.20000000000002" rx="2.7" ry="1.9" fill="#fff" stroke="#111" stroke-width="1.2"/>
<ellipse cx="395.2" cy="212.60000000000002" rx="2.4" ry="1.5" fill="#fff" stroke="#111" stroke-width="1.1"/>
<rect x="394.3" y="209.0" width="2.2" height="3" fill="#fff" stroke="#111" stroke-width="0.9"/>
<ellipse cx="204.2" cy="294.79999999999995" rx="2.7" ry="1.9" fill="#fff" stroke="#111" stroke-width="1.2"/>
<ellipse cx="204.2" cy="293.2" rx="2.4" ry="1.5" fill="#fff" stroke="#111" stroke-width="1.1"/>
<rect x="203.29999999999998" y="289.59999999999997" width="2.2" height="3" fill="#fff" stroke="#111" stroke-width="0.9"/>
<ellipse cx="143.1" cy="375" rx="3.3" ry="2.5" fill="#fff" stroke="#111" stroke-width="1.6" transform="rotate(12 143.1 375)"/>
<ellipse cx="143.2" cy="374.3" rx="1.9" ry="0.9" fill="#bbb" stroke="#222" stroke-width="0.7"/>
<g transform="translate(250.1,443.6) rotate(-53)"><rect x="-5.2" y="-3.5" width="10.4" height="7" rx="2.5" fill="#fff" stroke="#111" stroke-width="1.2"/><rect x="-2.4" y="-3.3" width="7.4" height="6.6" rx="2.1" fill="#4a4a4a" stroke="#111" stroke-width="1"/><line x1="-0.5" y1="-3" x2="-0.5" y2="3" stroke="#aaa" stroke-width="0.6"/><line x1="1.5" y1="-3" x2="1.5" y2="3" stroke="#999" stroke-width="0.6"/><line x1="3.5" y1="-3" x2="3.5" y2="3" stroke="#aaa" stroke-width="0.6"/></g>
<circle cx="431" cy="498.5" r="2.7" fill="#fff" stroke="#111" stroke-width="1.1"/>
<circle cx="431" cy="498.5" r="1.1" fill="none" stroke="#333" stroke-width="0.7"/>
<path class="kd" d="M433.5,499.0 L437.5,500.0" />
<path class="kf" d="M450.0,491.0 L454.5,488.5 L474.0,481.5 L476.0,483.0 L477.5,489.5 L483.0,490.0 L484.5,493.0 L482.0,497.5 L478.5,500.0 L476.0,505.0 L474.0,508.0 L470.0,514.0 L459.0,519.0 L456.5,516.5 L459.5,509.0 L456.5,507.0 L456.0,495.0 L450.5,494.0Z" />
<path class="k" d="M454.5,488.5 L455.5,492.0 L474.5,485.0" />
<path class="kd" d="M455.5,487.8 L473.0,481.7 L474.0,483.8 L456.3,490.0Z" style="fill:#222"/>
<path class="kt" d="M458.0,488.3 L458.7,490.0" style="stroke:#fff;stroke-width:1.2"/>
<path class="kt" d="M461.0,487.0 L461.7,489.0" style="stroke:#fff;stroke-width:1.4"/>
<path class="k" d="M450.5,494.0 L451.0,503.0 L455.5,503.7" />
<path class="kd" d="M451.0,497.0 L455.5,497.8" />
<path class="kd" d="M451.0,500.0 L455.5,500.6" />
<path class="k" d="M463.5,491.5 L463.5,506.5 L474.5,503.0 L477.0,492.0 L476.0,486.5" />
<path class="kd" d="M465.5,493.0 L466.0,500.0 L470.0,495.0 L470.5,503.5" />
<path class="kd" d="M472.5,490.0 L473.5,498.0 L476.0,493.0" />
<path class="kd" d="M466.5,490.5 L469.0,489.5" />
<path class="kd" d="M471.0,488.5 L473.0,488.0" />
<path class="kd" d="M464.5,503.5 L468.5,501.5 L471.0,504.5 L466.5,507.0Z" />
<path class="k" d="M460.0,509.0 L463.0,510.5 L459.5,517.0" />
<path class="kd" d="M463.5,509.5 L474.0,505.5" />
<path class="kd" d="M464.0,513.5 L470.0,510.5" />
<path class="kd" d="M462.5,516.0 L468.0,513.5" />
<circle cx="459.3" cy="504.5" r="1.1" fill="none" stroke="#111" stroke-width="0.8"/>
<circle cx="481.5" cy="493.3" r="0.9" fill="none" stroke="#111" stroke-width="0.8"/>
<circle cx="461" cy="508.8" r="1" fill="#111"/>
<path class="kf" d="M454.4,538.1 L471.9,531.3 L479.4,536.3 L461.5,542.6Z" />
<path class="kt" d="M457.0,538.3 L471.5,532.8 L476.5,536.2 L461.7,541.3Z" />
<path class="k" d="M456.5,541.0 L455.0,547.0 L459.4,549.4 L467.5,546.3 L472.5,542.5 L475.0,539.0" />
<path class="kt" d="M461.5,542.6 L460.5,545.5 L459.4,549.4" />
<path class="kt" d="M460.5,545.5 L467.0,543.3" />
<path class="kd" d="M456.0,540.0 L461.5,542.6" />
<ellipse cx="439.6" cy="562.3" rx="2.9" ry="1.7" fill="#fff" stroke="#111" stroke-width="1.4" transform="rotate(-35 439.6 562.3)"/>
<path class="kd" d="M440.0,563.5 L442.5,566.3" />
<path class="kf" d="M457.5,590.8 C457.2,590.2 456.9,589.3 457.3,588.5 C457.7,587.7 458.6,586.9 460.0,586.0 C461.4,585.1 463.7,584.1 466.0,583.0 C468.3,581.9 472.0,580.3 474.0,579.5 C476.0,578.7 477.0,578.3 478.0,578.3 C479.0,578.3 479.6,578.8 479.8,579.3 C480.0,579.8 479.9,580.7 479.3,581.5 C478.7,582.3 477.9,583.2 476.0,584.3 C474.1,585.4 470.4,586.8 468.0,588.0 C465.6,589.2 463.0,590.8 461.5,591.5 C460.0,592.2 459.5,592.1 458.8,592.0 C458.1,591.9 457.8,591.4 457.5,590.8Z" />
<path class="kt" d="M459.5,588.8 C459.5,588.1 460.9,587.0 462.0,586.5 C463.1,586.0 465.4,585.7 466.0,586.0 C466.6,586.3 466.2,587.8 465.5,588.5 C464.8,589.2 463.0,590.5 462.0,590.5 C461.0,590.5 459.5,589.5 459.5,588.8Z" />
<path class="kt" d="M472.0,582.0 C472.2,581.5 474.0,580.6 475.0,580.3 C476.0,580.0 477.6,579.9 477.8,580.2 C478.1,580.5 477.2,581.7 476.5,582.3 C475.8,582.9 474.2,583.6 473.5,583.6 C472.8,583.6 471.8,582.5 472.0,582.0Z" />
<path class="kd" d="M459.3,580.5 C459.4,580.0 459.5,578.1 460.0,577.3 C460.5,576.5 461.7,575.6 462.5,575.5 C463.3,575.4 464.1,575.8 465.0,576.5 C465.9,577.2 467.2,578.3 468.0,579.5 C468.8,580.7 469.7,582.8 470.0,583.5" />
<path class="k" d="M461.5,581.5 C461.6,581.1 461.7,579.5 462.0,579.0 C462.3,578.5 462.9,578.0 463.5,578.2 C464.1,578.4 464.9,579.2 465.5,580.0 C466.1,580.8 466.8,582.5 467.0,583.0" />
<path class="kd" d="M459.3,580.5 L461.0,585.0" />
<path class="k" d="M461.5,581.5 L463.0,585.5" />
<path class="kd" d="M470.0,583.5 L470.3,587.0" />
<path class="kd" d="M467.0,583.0 L467.3,587.5" />
<ellipse cx="470.5" cy="584.3" rx="1.6" ry="1.2" fill="#111"/>
</svg>
</body></html>
